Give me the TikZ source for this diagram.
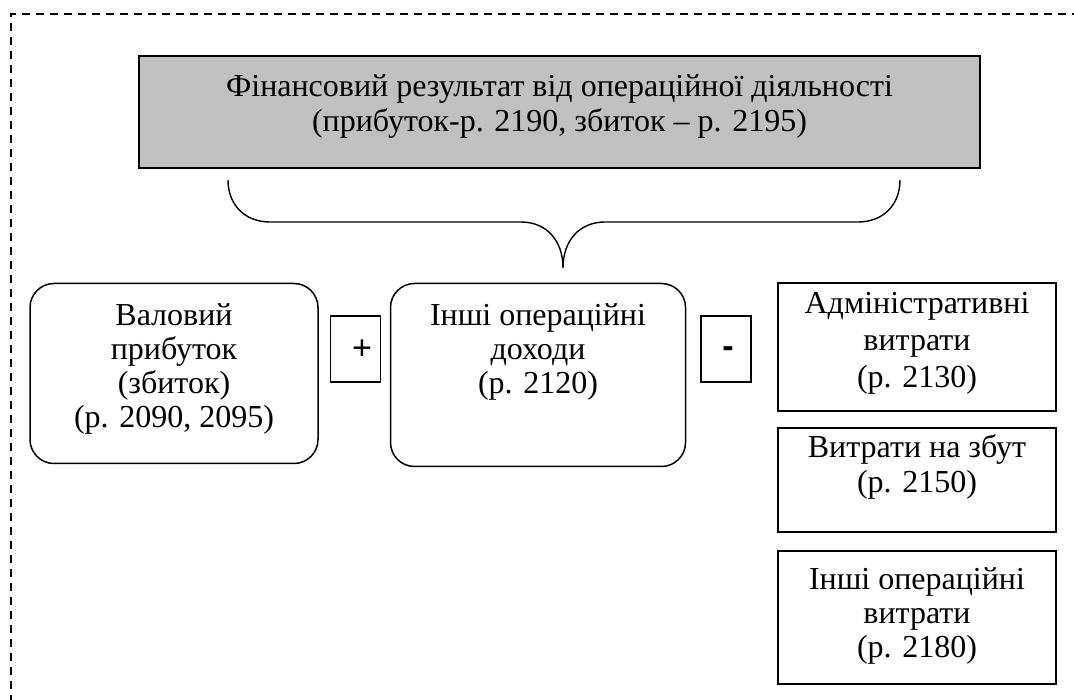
\documentclass[tikz,border=0pt]{standalone}
\usepackage{fontspec}
\setmainfont{Liberation Serif}
\newfontfamily\arialf{Liberation Sans}
\begin{document}
\begin{tikzpicture}[x=1pt,y=-1pt,
  box/.style={draw=black,line width=1.5pt,inner sep=0pt},
  rbox/.style={box,rounded corners=24pt},
  txt/.style={align=center,inner sep=0pt,font=\fontsize{32}{34}\selectfont},
  sign/.style={inner sep=0pt,font=\arialf\fontsize{34}{36}\selectfont}]
\useasboundingbox (0,0) rectangle (1074,700);
% dashed frame (only top and left visible)
\coordinate (ftl) at (11,14);
\coordinate (ftr) at (1080,14);
\coordinate (fbl) at (11,710);
\draw[line width=1.4pt,dash pattern=on 8pt off 6pt] (ftr) -- (ftl) -- (fbl);
% top box
\node[box,fill={rgb,255:red,192;green,192;blue,192},minimum width=841pt,minimum height=112pt] (res) at (559.5,112) {};
\node[txt,font=\fontsize{32}{35}\selectfont] (restxt) at (559.5,107) {Фінансовий результат від операційної діяльності\\(прибуток-р. 2190, збиток – р. 2195)};
% brace
\coordinate (bl) at (228,180);
\coordinate (br) at (900,180);
\coordinate (tip) at (563,268);
\draw[line width=1.4pt] (bl) .. controls (228,205) and (245,222) .. (270,222) -- (521,222)
  .. controls (546,222) and (563,240) .. (tip)
  .. controls (563,240) and (580,222) .. (605,222) -- (858,222)
  .. controls (883,222) and (900,205) .. (br);
% left box
\node[rbox,minimum width=288pt,minimum height=180pt] (gross) at (174,373.5) {};
\node[txt] (grosstxt) at (174,368.5) {Валовий\\прибуток\\(збиток)\\(р. 2090, 2095)};
% plus
\node[box,minimum width=50pt,minimum height=66pt] (plus) at (355.5,349) {};
\node[sign] (plustxt) at (362,350) {+};
% middle box
\node[rbox,minimum width=295pt,minimum height=183pt] (other) at (538,375) {};
\node[txt] (othertxt) at (538,352) {Інші операційні\\доходи\\(р. 2120)};
% minus
\node[box,minimum width=50pt,minimum height=66pt] (minus) at (726,349) {};
\node[sign] (minustxt) at (728,352) {\textbf{-}};
% right boxes
\node[box,minimum width=278pt,minimum height=128pt] (adm) at (917,347) {};
\node[txt,font=\fontsize{32}{37}\selectfont] (admtxt) at (917,343) {Адміністративні\\витрати\\(р. 2130)};
\node[box,minimum width=278pt,minimum height=104pt] (sale) at (917,480) {};
\node[txt,font=\fontsize{32}{35}\selectfont] (saletxt) at (917,466.5) {Витрати на збут\\(р. 2150)};
\node[box,minimum width=278pt,minimum height=133pt] (oexp) at (917,617.5) {};
\node[txt] (oexptxt) at (917,616) {Інші операційні\\витрати\\(р. 2180)};
\end{tikzpicture}
\end{document}
